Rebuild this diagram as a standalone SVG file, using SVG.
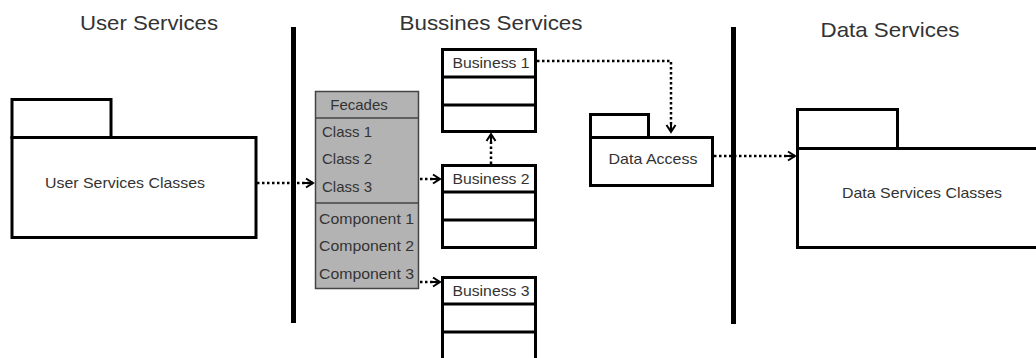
<svg xmlns="http://www.w3.org/2000/svg" width="1036" height="358" viewBox="0 0 1036 358">
<defs>
<style>
text{font-family:"Liberation Sans",Arial,sans-serif;fill:#333}
.title{font-size:21px}
.lbl{font-size:15px}
.box{fill:#fff;stroke:#000;stroke-width:3}
.gbox{fill:#b3b3b3;stroke:#444;stroke-width:1.5}
.bar{stroke:#000;stroke-width:5}
.dot{fill:none;stroke:#000;stroke-width:2.5;stroke-dasharray:2.5 2.5}
</style>
<marker id="ah" markerWidth="12" markerHeight="12" refX="10" refY="6" orient="auto" markerUnits="userSpaceOnUse">
<path d="M3,1.5 L10,6 L3,10.5 M0,6 L10,6" fill="none" stroke="#000" stroke-width="2"/>
</marker>
</defs>
<rect width="1036" height="358" fill="#fff"/>
<text class="title" x="149" y="30" text-anchor="middle" textLength="138" lengthAdjust="spacingAndGlyphs">User Services</text>
<text class="title" x="491" y="30" text-anchor="middle" textLength="183" lengthAdjust="spacingAndGlyphs">Bussines Services</text>
<text class="title" x="890" y="37" text-anchor="middle" textLength="139" lengthAdjust="spacingAndGlyphs">Data Services</text>
<line class="bar" x1="293.5" y1="27" x2="293.5" y2="323"/>
<line class="bar" x1="733.5" y1="27" x2="733.5" y2="324"/>
<g id="user-services-classes">
<rect class="box" x="12" y="99.5" width="99" height="38"/>
<rect class="box" x="12" y="137.5" width="244" height="100"/>
<text class="lbl" x="125" y="188" text-anchor="middle" textLength="160" lengthAdjust="spacingAndGlyphs">User Services Classes</text>
</g>
<g id="fecades">
<rect class="gbox" x="315.5" y="91.5" width="103" height="197"/>
<line x1="315.5" y1="118" x2="418.5" y2="118" stroke="#444" stroke-width="1.5"/>
<line x1="315.5" y1="203" x2="418.5" y2="203" stroke="#444" stroke-width="1.5"/>
<text class="lbl" x="359" y="110" text-anchor="middle">Fecades</text>
<text class="lbl" x="322" y="137">Class 1</text>
<text class="lbl" x="322" y="164">Class 2</text>
<text class="lbl" x="322" y="192">Class 3</text>
<text class="lbl" x="319" y="224" textLength="95" lengthAdjust="spacingAndGlyphs">Component 1</text>
<text class="lbl" x="319" y="251" textLength="95" lengthAdjust="spacingAndGlyphs">Component 2</text>
<text class="lbl" x="319" y="279" textLength="95" lengthAdjust="spacingAndGlyphs">Component 3</text>
</g>
<g id="business1">
<rect class="box" x="442.5" y="49.5" width="93" height="82"/>
<line x1="442.5" y1="77" x2="535.5" y2="77" stroke="#000" stroke-width="3"/>
<line x1="442.5" y1="105" x2="535.5" y2="105" stroke="#000" stroke-width="3"/>
<text class="lbl" x="491" y="68" text-anchor="middle" textLength="77" lengthAdjust="spacingAndGlyphs">Business 1</text>
</g>
<g id="business2">
<rect class="box" x="442.5" y="165.5" width="93" height="82"/>
<line x1="442.5" y1="192" x2="535.5" y2="192" stroke="#000" stroke-width="3"/>
<line x1="442.5" y1="220" x2="535.5" y2="220" stroke="#000" stroke-width="3"/>
<text class="lbl" x="491" y="184" text-anchor="middle" textLength="77" lengthAdjust="spacingAndGlyphs">Business 2</text>
</g>
<g id="business3">
<rect class="box" x="442.5" y="277.5" width="93" height="90"/>
<line x1="442.5" y1="304" x2="535.5" y2="304" stroke="#000" stroke-width="3"/>
<line x1="442.5" y1="332" x2="535.5" y2="332" stroke="#000" stroke-width="3"/>
<text class="lbl" x="491" y="296" text-anchor="middle" textLength="77" lengthAdjust="spacingAndGlyphs">Business 3</text>
</g>
<g id="data-access">
<rect class="box" x="590.5" y="114.5" width="58" height="23"/>
<rect class="box" x="590.5" y="137.5" width="122" height="48"/>
<text class="lbl" x="653" y="164" text-anchor="middle" textLength="89" lengthAdjust="spacingAndGlyphs">Data Access</text>
</g>
<g id="data-services-classes">
<rect class="box" x="797.5" y="109.5" width="100" height="39"/>
<rect class="box" x="797.5" y="148.5" width="250" height="99"/>
<text class="lbl" x="922" y="198" text-anchor="middle" textLength="160" lengthAdjust="spacingAndGlyphs">Data Services Classes</text>
</g>
<g id="connectors">
<path class="dot" d="M257,183 H313" marker-end="url(#ah)"/>
<path class="dot" d="M420,179 H440" marker-end="url(#ah)"/>
<path class="dot" d="M420,282 H440" marker-end="url(#ah)"/>
<path class="dot" d="M491,164 V134" marker-end="url(#ah)"/>
<path class="dot" d="M537,61 H671 V132" marker-end="url(#ah)"/>
<path class="dot" d="M714,156 H795" marker-end="url(#ah)"/>
</g>
</svg>
